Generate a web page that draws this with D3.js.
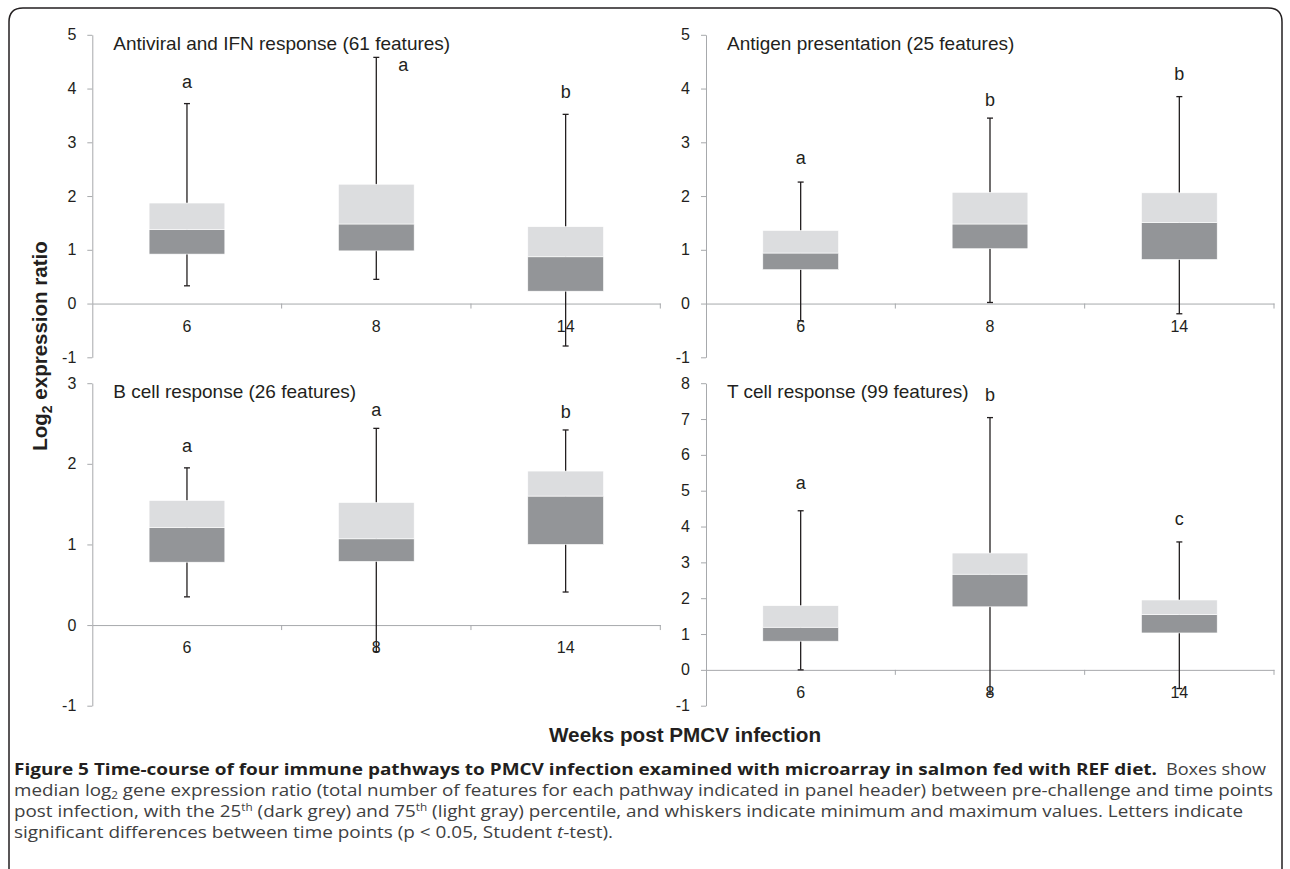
<!DOCTYPE html>
<html>
<head>
<meta charset="utf-8">
<script src="https://cdn.jsdelivr.net/npm/d3@7"></script>
<style>
body{margin:0;background:#fff;}
svg{display:block;}
</style>
</head>
<body>
<svg id="fig"></svg>
<script>
// time points (weeks post infection)
var weeks = ["6", "8", "14"];

var panelTitles = [
  "Antiviral and IFN response (61 features)",
  "Antigen presentation (25 features)",
  "B cell response (26 features)",
  "T cell response (99 features)"
];
var yTop    = [5, 5, 3, 8];
var yBottom = [-1, -1, -1, -1];

// one row per week: [min, 25th, median, 75th, max]
var antiviralBoxes = [[0.33, 0.92, 1.38, 1.87, 3.72], [0.45, 0.98, 1.48, 2.22, 4.58], [-0.79, 0.23, 0.87, 1.43, 3.52]];
var antigenBoxes   = [[-0.32, 0.63, 0.94, 1.36, 2.26], [0.02, 1.02, 1.48, 2.07, 3.45], [-0.19, 0.82, 1.51, 2.06, 3.85]];
var bcellBoxes     = [[0.35, 0.78, 1.21, 1.545, 1.95], [-0.33, 0.79, 1.07, 1.52, 2.44], [0.41, 1.00, 1.60, 1.91, 2.42]];
var tcellBoxes     = [[0.00, 0.80, 1.19, 1.79, 4.44], [-0.68, 1.76, 2.67, 3.26, 7.04], [-0.52, 1.03, 1.54, 1.95, 3.57]];

// significance letters and where they sit (in axis units)
var antiviralLetters = ["a", "a", "b"], antiviralLetterY = [4.01, 4.33, 3.82];
var antigenLetters   = ["a", "b", "b"], antigenLetterY   = [2.59, 3.68, 4.15];
var bcellLetters     = ["a", "a", "b"], bcellLetterY     = [2.15, 2.59, 2.57];
var tcellLetters     = ["a", "b", "c"], tcellLetterY     = [5.06, 7.51, 4.04];

var allBoxes = [antiviralBoxes, antigenBoxes, bcellBoxes, tcellBoxes];
var allLetters = [antiviralLetters, antigenLetters, bcellLetters, tcellLetters];
var allLetterY = [antiviralLetterY, antigenLetterY, bcellLetterY, tcellLetterY];

var width = 1290, height = 869;
var colX = [92.3, 706], rowY = [34.8, 383.2];
var panelW = 568, panelH = 322.5;
var axisGrey = "#a7a9ac", ink = "#231f20";
var lightBox = "#dcdddf", darkBox = "#939598";
var font = "'Liberation Sans', Arial, Helvetica, sans-serif";

var svg = d3.select("#fig").attr("width", width).attr("height", height);

// frame round the figure
svg.append("path")
   .attr("d", "M9,880 V22 Q9,8 23,8 H1268 Q1282,8 1282,22 V880")
   .attr("fill", "none").attr("stroke", ink).attr("stroke-width", 1.5);

panelTitles.forEach(function(title, i){
  var x0 = colX[i % 2], y0 = rowY[Math.floor(i / 2)];
  var g = svg.append("g");

  var xScale = d3.scaleBand().domain(weeks).range([x0, x0 + panelW]);
  var yScale = d3.scaleLinear().domain([yBottom[i], yTop[i]]).range([y0 + panelH, y0]);

  var yAxis = d3.axisLeft(yScale)
                .tickValues(d3.range(yBottom[i], yTop[i] + 1))
                .tickFormat(function(d){ return String(d); })
                .tickSize(5).tickSizeOuter(0).tickPadding(11);
  var ga = g.append("g").attr("transform", "translate(" + x0 + ",0)").call(yAxis);
  ga.selectAll("path,line").attr("stroke", axisGrey);
  ga.selectAll("text").attr("font-family", font).attr("font-size", 16).attr("fill", ink);

  var xAxis = d3.axisBottom(xScale).tickSize(0).tickSizeOuter(0).tickPadding(16.6);
  var gx = g.append("g").attr("transform", "translate(0," + yScale(0) + ")").call(xAxis);
  gx.select(".domain").attr("stroke", axisGrey);
  gx.selectAll("text").attr("font-family", font).attr("font-size", 16).attr("fill", ink);

  // separator ticks between time points
  g.selectAll("line.sep").data(weeks).enter().append("line")
   .attr("class", "sep")
   .attr("x1", function(d){ return xScale(d) + xScale.step(); })
   .attr("x2", function(d){ return xScale(d) + xScale.step(); })
   .attr("y1", yScale(0)).attr("y2", yScale(0) + 5)
   .attr("stroke", axisGrey);

  var boxes = allBoxes[i];
  var bw = xScale.step() * 0.4;
  var cx = function(j){ return xScale(weeks[j]) + xScale.bandwidth() / 2; };

  boxes.forEach(function(b, j){
    var c = cx(j);
    g.append("line")
     .attr("x1", c).attr("x2", c)
     .attr("y1", yScale(b[0])).attr("y2", yScale(b[4]))
     .attr("stroke", ink).attr("stroke-width", 1.3);
    [b[0], b[4]].forEach(function(v){
      g.append("line")
       .attr("x1", c - 3).attr("x2", c + 3)
       .attr("y1", yScale(v)).attr("y2", yScale(v))
       .attr("stroke", ink).attr("stroke-width", 1.3);
    });
    g.append("rect")
     .attr("x", c - bw / 2).attr("width", bw)
     .attr("y", yScale(b[2])).attr("height", yScale(b[1]) - yScale(b[2]))
     .attr("fill", darkBox).attr("stroke", "#fff").attr("stroke-width", 0.6);
    g.append("rect")
     .attr("x", c - bw / 2).attr("width", bw)
     .attr("y", yScale(b[3])).attr("height", yScale(b[2]) - yScale(b[3]))
     .attr("fill", lightBox).attr("stroke", "#fff").attr("stroke-width", 0.6);
  });

  // letters
  var letterShift = (i === 0) ? [0, 27, 0] : [0, 0, 0];
  g.selectAll("text.sig").data(allLetters[i]).enter().append("text")
   .attr("class", "sig")
   .attr("x", function(d, j){ return cx(j) + letterShift[j]; })
   .attr("y", function(d, j){ return yScale(allLetterY[i][j]); })
   .attr("text-anchor", "middle")
   .attr("font-family", font).attr("font-size", 18).attr("fill", ink)
   .text(function(d){ return d; });

  g.append("text")
   .attr("x", x0 + 21).attr("y", y0 + 15)
   .attr("font-family", font).attr("font-size", 19).attr("fill", ink)
   .text(title);
});

// axis titles
var yt = svg.append("text")
   .attr("transform", "translate(47,346) rotate(-90)")
   .attr("text-anchor", "middle")
   .attr("font-family", font).attr("font-size", 20.5).attr("font-weight", "bold").attr("fill", ink);
yt.append("tspan").text("Log");
yt.append("tspan").attr("font-size", 14).attr("dy", 5).text("2");
yt.append("tspan").attr("dy", -5).text(" expression ratio");

svg.append("text")
   .attr("x", 685).attr("y", 742)
   .attr("text-anchor", "middle")
   .attr("font-family", font).attr("font-size", 20.7).attr("font-weight", "bold").attr("fill", ink)
   .text("Weeks post PMCV infection");

// caption
var capFont = "'Open Sans', 'Noto Sans', sans-serif";
var capGrey = "#404041";
function capLine(x, y, len, bold){
  return svg.append("text")
    .attr("x", x).attr("y", y)
    .attr("textLength", len).attr("lengthAdjust", "spacingAndGlyphs")
    .attr("font-family", capFont).attr("font-size", 16)
    .attr("font-weight", bold ? "bold" : "normal")
    .attr("fill", bold ? ink : capGrey);
}
capLine(14, 775, 1143, true)
  .text("Figure 5 Time-course of four immune pathways to PMCV infection examined with microarray in salmon fed with REF diet.");
capLine(1166, 775, 100, false).text("Boxes show");

var l2 = capLine(14, 796, 1259, false);
l2.append("tspan").text("median log");
l2.append("tspan").attr("font-size", 10).attr("dy", 3).text("2");
l2.append("tspan").attr("dy", -3).text(" gene expression ratio (total number of features for each pathway indicated in panel header) between pre-challenge and time points");

var l3 = capLine(14, 817, 1229, false);
l3.append("tspan").text("post infection, with the 25");
l3.append("tspan").attr("font-size", 10).attr("dy", -6).text("th");
l3.append("tspan").attr("dy", 6).text(" (dark grey) and 75");
l3.append("tspan").attr("font-size", 10).attr("dy", -6).text("th");
l3.append("tspan").attr("dy", 6).text(" (light gray) percentile, and whiskers indicate minimum and maximum values. Letters indicate");

var l4 = capLine(14, 838, 599, false);
l4.append("tspan").text("significant differences between time points (p < 0.05, Student ");
l4.append("tspan").attr("font-style", "italic").text("t");
l4.append("tspan").text("-test).");
</script>
</body>
</html>
